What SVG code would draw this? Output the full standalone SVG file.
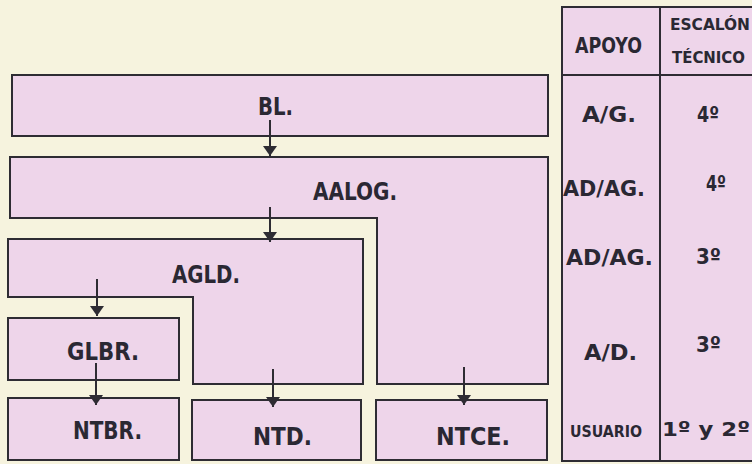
<svg xmlns="http://www.w3.org/2000/svg" width="752" height="464" viewBox="0 0 752 464">
<style>
.box{fill:#eed5ea;stroke:#2e2c33;stroke-width:2}
.t{font-family:"DejaVu Sans Condensed","DejaVu Sans",sans-serif;font-weight:bold;fill:#2a2833}
.big{font-size:24px}
.mid{font-size:22px}
.sm{font-size:15px}
.cn{stroke:#2e2c33;stroke-width:2;fill:none;marker-end:url(#ah)}
.ln{stroke:#2e2c33;stroke-width:2;fill:none}
</style>
<defs>
<marker id="ah" markerUnits="userSpaceOnUse" markerWidth="12" markerHeight="16" refX="10" refY="7" orient="auto">
<path d="M0,0 L10,7 L0,14 Z" fill="#2e2c33"/>
</marker>
</defs>
<rect x="0" y="0" width="752" height="464" fill="#f6f3de"/>

<g id="table">
<rect class="box" x="562" y="7" width="200" height="454"/>
<line class="ln" x1="660" y1="7" x2="660" y2="461"/>
<line class="ln" x1="562" y1="75" x2="752" y2="75"/>
<text class="t mid" x="575" y="53" textLength="67" lengthAdjust="spacingAndGlyphs">APOYO</text>
<text class="t sm" x="670" y="30" textLength="80" lengthAdjust="spacingAndGlyphs">ESCALÓN</text>
<text class="t sm" x="672" y="63" textLength="73" lengthAdjust="spacingAndGlyphs">TÉCNICO</text>
<text class="t mid" x="582" y="122" textLength="54" lengthAdjust="spacingAndGlyphs">A/G.</text>
<text class="t mid" x="697" y="122" textLength="22" lengthAdjust="spacingAndGlyphs">4º</text>
<text class="t mid" x="563" y="196" textLength="82" lengthAdjust="spacingAndGlyphs">AD/AG.</text>
<text class="t mid" x="706" y="191" textLength="20" lengthAdjust="spacingAndGlyphs">4º</text>
<text class="t mid" x="566" y="265" textLength="87" lengthAdjust="spacingAndGlyphs">AD/AG.</text>
<text class="t mid" x="696" y="264" textLength="25" lengthAdjust="spacingAndGlyphs">3º</text>
<text class="t mid" x="584" y="360" textLength="53" lengthAdjust="spacingAndGlyphs">A/D.</text>
<text class="t mid" x="696" y="352" textLength="25" lengthAdjust="spacingAndGlyphs">3º</text>
<text class="t sm" x="570" y="437" textLength="72" lengthAdjust="spacingAndGlyphs">USUARIO</text>
<text class="t" style="font-size:20px" x="662" y="436" textLength="88" lengthAdjust="spacingAndGlyphs">1º y 2º</text>
</g>

<g id="bl">
<rect class="box" x="12" y="75" width="536" height="61"/>
<text class="t big" x="258" y="115" textLength="35" lengthAdjust="spacingAndGlyphs">BL.</text>
</g>

<g id="aalog">
<path class="box" d="M10,157 H548 V384 H377 V218 H10 Z"/>
<text class="t big" x="313" y="200" textLength="84" lengthAdjust="spacingAndGlyphs">AALOG.</text>
</g>

<g id="agld">
<path class="box" d="M8,239 H363 V384 H193 V297 H8 Z"/>
<text class="t big" x="172" y="283" textLength="68" lengthAdjust="spacingAndGlyphs">AGLD.</text>
</g>

<g id="glbr">
<rect class="box" x="8" y="318" width="171" height="62"/>
<text class="t big" x="67" y="360" textLength="72" lengthAdjust="spacingAndGlyphs">GLBR.</text>
</g>

<g id="ntbr">
<rect class="box" x="8" y="398" width="171" height="62"/>
<text class="t big" x="73" y="439" textLength="69" lengthAdjust="spacingAndGlyphs">NTBR.</text>
</g>

<g id="ntd">
<rect class="box" x="192" y="400" width="169" height="60"/>
<text class="t big" x="253" y="445" textLength="59" lengthAdjust="spacingAndGlyphs">NTD.</text>
</g>

<g id="ntce">
<rect class="box" x="376" y="400" width="171" height="60"/>
<text class="t big" x="436" y="445" textLength="74" lengthAdjust="spacingAndGlyphs">NTCE.</text>
</g>

<g id="connectors">
<path class="cn" d="M270,120 V156"/>
<path class="cn" d="M270,207 V242"/>
<path class="cn" d="M97,279 V316"/>
<path class="cn" d="M96,363 V405"/>
<path class="cn" d="M273,369 V407"/>
<path class="cn" d="M464,367 V405"/>
</g>
</svg>
